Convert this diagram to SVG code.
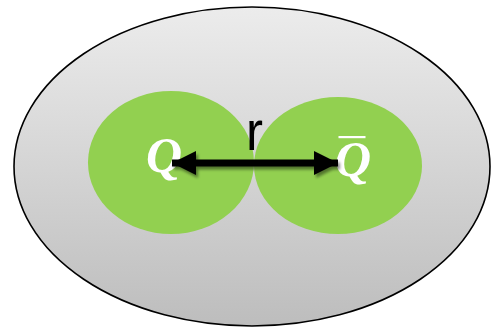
<svg xmlns="http://www.w3.org/2000/svg" width="491" height="331" viewBox="0 0 491 331">
  <defs>
    <linearGradient id="grayFill" x1="0" y1="0" x2="0" y2="1">
      <stop offset="0" stop-color="#ececec"/>
      <stop offset="1" stop-color="#bdbdbd"/>
    </linearGradient>
    <filter id="shadow" filterUnits="userSpaceOnUse" x="150" y="130" width="210" height="70">
      <feGaussianBlur in="SourceAlpha" stdDeviation="1.5"/>
      <feOffset dx="1.5" dy="2.5" result="b"/>
      <feComponentTransfer><feFuncA type="linear" slope="0.45"/></feComponentTransfer>
      <feMerge><feMergeNode/><feMergeNode in="SourceGraphic"/></feMerge>
    </filter>
    <marker id="headEnd" viewBox="0 0 24 24" refX="24" refY="12" markerWidth="24" markerHeight="24" markerUnits="userSpaceOnUse" orient="auto">
      <path d="M0,0 L24,12 L0,24 Z" fill="#000"/>
    </marker>
    <marker id="headStart" viewBox="0 0 24 24" refX="0" refY="12" markerWidth="24" markerHeight="24" markerUnits="userSpaceOnUse" orient="auto">
      <path d="M24,0 L0,12 L24,24 Z" fill="#000"/>
    </marker>
  </defs>
  <style>
    .outer { fill: url(#grayFill); stroke: #000; stroke-width: 1.6; }
    .ball { fill: #92d050; }
    .qlabel { font-family: "Liberation Serif", serif; font-weight: bold; font-style: italic; font-size: 50px; fill: #fff; }
    .rlabel { font-family: "Liberation Sans", sans-serif; font-size: 56px; fill: #000; }
  </style>

  <g id="outer">
    <ellipse class="outer" cx="252" cy="166.5" rx="238" ry="159.5"/>
  </g>

  <g id="quark">
    <ellipse class="ball" cx="171" cy="162.5" rx="83" ry="71.5"/>
    <text class="qlabel" x="146" y="172">Q</text>
  </g>

  <g id="antiquark">
    <ellipse class="ball" cx="338" cy="165.5" rx="84" ry="68.5"/>
    <text class="qlabel" x="335" y="176">Q</text>
    <rect x="338.5" y="136" width="27" height="2.2" fill="#fff"/>
  </g>

  <g id="connectors">
    <g filter="url(#shadow)">
      <line x1="172" y1="163" x2="338" y2="163" stroke="#000" stroke-width="7" marker-start="url(#headStart)" marker-end="url(#headEnd)"/>
    </g>
    <text class="rlabel" x="246" y="150" textLength="17" lengthAdjust="spacingAndGlyphs">r</text>
  </g>
</svg>
